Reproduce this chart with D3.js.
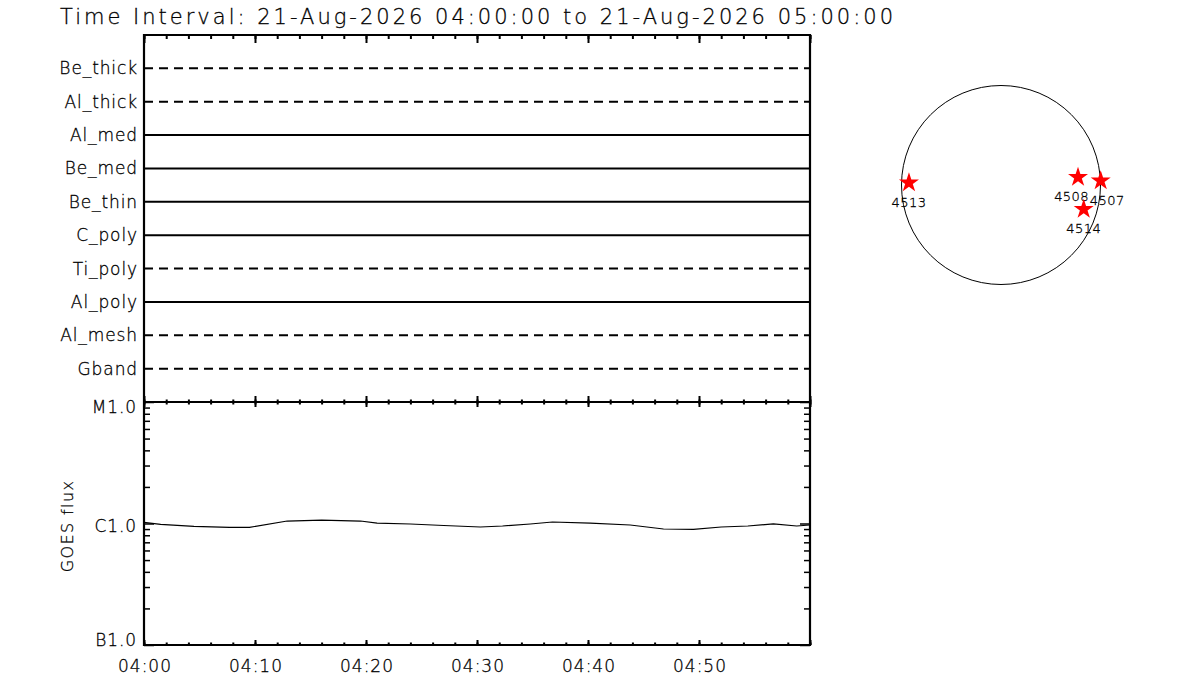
<!DOCTYPE html>
<html>
<head>
<meta charset="utf-8">
<script src="https://cdn.jsdelivr.net/npm/d3@7"></script>
<style>
    body { margin: 0; background: #fff; }
    text { font-family: "DejaVu Sans", "Liberation Sans", sans-serif; font-weight: 200; fill: #000; stroke: #000; stroke-width: 0.3; }
</style>
</head>
<body>
<div id="chart"></div>
<script>
// Interval shown on the time axis
const startTime = Date.UTC(2026, 7, 21, 4, 0, 0);
const endTime = Date.UTC(2026, 7, 21, 5, 0, 0);
const titleText = 'Time Interval: 21-Aug-2026 04:00:00 to 21-Aug-2026 05:00:00';

// XRT filter channels, top to bottom, and whether each one has exposures (solid) or not (dashed)
const channels = ['Be_thick', 'Al_thick', 'Al_med', 'Be_med', 'Be_thin', 'C_poly', 'Ti_poly', 'Al_poly', 'Al_mesh', 'Gband'];
const channelObserved = [false, false, true, true, true, true, false, true, false, false];

// GOES flux (W/m^2), minutes after 04:00
const goesMinutes = [0, 1.5, 4.5, 7.7, 9.5, 12.9, 16, 19.5, 21, 24, 27, 30.3, 32.3, 34.8, 36.8, 40.2, 43.8, 46.8, 49.5, 52, 54.4, 56.7, 58.8, 60];
const goesFlux = [1.023e-6, 0.985e-6, 0.948e-6, 0.930e-6, 0.930e-6, 1.048e-6, 1.068e-6, 1.048e-6, 1.009e-6, 0.991e-6, 0.963e-6, 0.936e-6,
                  0.954e-6, 0.991e-6, 1.029e-6, 1.009e-6, 0.972e-6, 0.901e-6, 0.896e-6, 0.936e-6, 0.954e-6, 0.991e-6, 0.954e-6, 0.972e-6];

// GOES class ticks
const goesMajor = [1e-7, 1e-6, 1e-5];
const goesLabels = ['B1.0', 'C1.0', 'M1.0'];

// Active regions on the disk, heliocentric arcsec
const regions = ['4513', '4508', '4507', '4514'];
const regionX = [-888, 743, 962, 798];
const regionY = [22, 74, 41, -234];
const solarRadius = 960;

window.onload = function () {
    let width = 1200;
    let height = 700;
    let svg = d3.select('#chart')
        .append('svg')
        .attr('width', width)
        .attr('height', height);

    // Plot boxes
    let left = 144, right = 810;
    let topY = 35, midY = 402, botY = 645;

    let x = d3.scaleUtc()
        .domain([new Date(startTime), new Date(endTime)])
        .range([left, right]);

    let yChan = d3.scalePoint()
        .domain(channels)
        .range([topY, midY])
        .padding(1);

    let yGoes = d3.scaleLog()
        .domain([1e-7, 1e-5])
        .range([botY, midY]);

    // Title
    svg.append('text')
        .attr('x', 60)
        .attr('y', 24)
        .attr('font-size', 21)
        .attr('textLength', 833)
        .attr('lengthAdjust', 'spacing')
        .text(titleText);

    // ---- top panel: channel lines ----
    let chan = svg.append('g');
    chan.selectAll('line')
        .data(channels)
        .enter()
        .append('line')
        .attr('x1', left)
        .attr('x2', right)
        .attr('y1', d => yChan(d))
        .attr('y2', d => yChan(d))
        .attr('stroke', '#000')
        .attr('stroke-width', 2)
        .attr('stroke-dasharray', (d, i) => channelObserved[i] ? null : '9,6');

    chan.selectAll('text')
        .data(channels)
        .enter()
        .append('text')
        .attr('x', 138)
        .attr('y', d => yChan(d) + 6)
        .attr('text-anchor', 'end')
        .attr('font-size', 17)
        .attr('letter-spacing', 0.9)
        .text(d => d);

    // time ticks, drawn with d3 axes (domain path removed, frame drawn below)
    function timeTicks(axisFn, y, majorLen, minorLen) {
        svg.append('g')
            .attr('transform', `translate(0,${y})`)
            .call(axisFn(x).ticks(d3.utcMinute.every(2)).tickSize(minorLen).tickFormat(''))
            .call(g => g.select('.domain').remove())
            .call(g => g.selectAll('line').attr('stroke-width', 2));
        svg.append('g')
            .attr('transform', `translate(0,${y})`)
            .call(axisFn(x).ticks(d3.utcMinute.every(10)).tickSize(majorLen).tickFormat(''))
            .call(g => g.select('.domain').remove())
            .call(g => g.selectAll('line').attr('stroke-width', 2));
    }
    timeTicks(d3.axisBottom, topY, 8, 4);
    timeTicks(d3.axisTop, midY, 6, 2.5);
    timeTicks(d3.axisBottom, midY, 5, 2.5);
    timeTicks(d3.axisTop, botY, 5, 2.5);

    // ---- bottom panel: GOES ----
    let minorVals = [];
    [1e-7, 1e-6].forEach(dec => {
        for (let k = 2; k <= 9; k++) minorVals.push(dec * k);
    });

    function fluxTicks(axisFn, xPos) {
        svg.append('g')
            .attr('transform', `translate(${xPos},0)`)
            .call(axisFn(yGoes).tickValues(minorVals).tickSize(6).tickFormat(''))
            .call(g => g.select('.domain').remove())
            .call(g => g.selectAll('line').attr('stroke-width', 1.5));
        svg.append('g')
            .attr('transform', `translate(${xPos},0)`)
            .call(axisFn(yGoes).tickValues(goesMajor).tickSize(10).tickFormat(''))
            .call(g => g.select('.domain').remove())
            .call(g => g.selectAll('line').attr('stroke-width', 1.5));
    }
    fluxTicks(d3.axisRight, left);
    fluxTicks(d3.axisLeft, right);

    // GOES class labels
    svg.append('g')
        .selectAll('text')
        .data(goesMajor)
        .enter()
        .append('text')
        .attr('x', 137)
        .attr('y', (d, i) => yGoes(d) + (i === 0 ? 1 : i === 2 ? 11 : 8))
        .attr('text-anchor', 'end')
        .attr('font-size', 17)
        .attr('letter-spacing', 0.9)
        .text((d, i) => goesLabels[i]);

    // time labels (04:00 .. 04:50)
    let labelTimes = x.ticks(d3.utcMinute.every(10)).filter(t => +t < endTime);
    svg.append('g')
        .selectAll('text')
        .data(labelTimes)
        .enter()
        .append('text')
        .attr('x', d => x(d) + 1)
        .attr('y', 672)
        .attr('text-anchor', 'middle')
        .attr('font-size', 17)
        .attr('letter-spacing', 1)
        .text(d => d3.utcFormat('%H:%M')(d));

    svg.append('text')
        .attr('transform', 'translate(73,526) rotate(-90)')
        .attr('text-anchor', 'middle')
        .attr('font-size', 16)
        .attr('letter-spacing', 1.4)
        .text('GOES flux');

    // GOES curve
    let goesLine = d3.line()
        .x(d => x(new Date(startTime + d[0] * 60000)))
        .y(d => yGoes(d[1]));
    svg.append('path')
        .datum(goesMinutes.map((m, i) => [m, goesFlux[i]]))
        .attr('d', goesLine)
        .attr('fill', 'none')
        .attr('stroke', '#000')
        .attr('stroke-width', 1.2);

    // Frames
    svg.append('path')
        .attr('d', `M${left},${topY}H${right}V${botY}H${left}Z M${left},${midY}H${right}`)
        .attr('fill', 'none')
        .attr('stroke', '#000')
        .attr('stroke-width', 2.2);

    // ---- solar disk ----
    let cx = 1001, cy = 185, r = 99.5;
    let sx = d3.scaleLinear().domain([-solarRadius, solarRadius]).range([cx - r, cx + r]);
    let sy = d3.scaleLinear().domain([-solarRadius, solarRadius]).range([cy + r, cy - r]);

    svg.append('circle')
        .attr('cx', sx(0))
        .attr('cy', sy(0))
        .attr('r', sx(solarRadius) - sx(0))
        .attr('fill', 'none')
        .attr('stroke', '#000')
        .attr('stroke-width', 1);

    let star = d3.symbol().type(d3.symbolStar).size(124);
    let ar = svg.append('g')
        .selectAll('g')
        .data(regions)
        .enter()
        .append('g')
        .attr('transform', (d, i) => `translate(${sx(regionX[i])},${sy(regionY[i])})`);

    ar.append('path')
        .attr('d', star)
        .attr('fill', '#ff0000');

    let arLabels = ar.append('text')
        .attr('y', 24)
        .attr('text-anchor', 'middle')
        .attr('font-size', 13)
        .attr('letter-spacing', 0.4)
        .attr('stroke-width', 0.2)
        .text(d => d);

    // nudge labels sideways when they collide on the same row
    let boxes = [];
    arLabels.each(function (d, i) {
        let b = this.getBBox();
        boxes.push({ el: this, x0: sx(regionX[i]) + b.x, x1: sx(regionX[i]) + b.x + b.width, y: sy(regionY[i]), dx: 0 });
    });
    boxes.forEach((a, i) => {
        boxes.forEach((b, j) => {
            if (j <= i || Math.abs(a.y - b.y) > 10) return;
            let overlap = Math.min(a.x1, b.x1) - Math.max(a.x0, b.x0);
            if (overlap > -1) {
                let shift = (overlap + 1) / 2;
                if (a.x0 < b.x0) { a.dx -= shift; b.dx += shift; } else { a.dx += shift; b.dx -= shift; }
            }
        });
    });
    boxes.forEach(b => d3.select(b.el).attr('x', b.dx));
};
</script>
</body>
</html>
